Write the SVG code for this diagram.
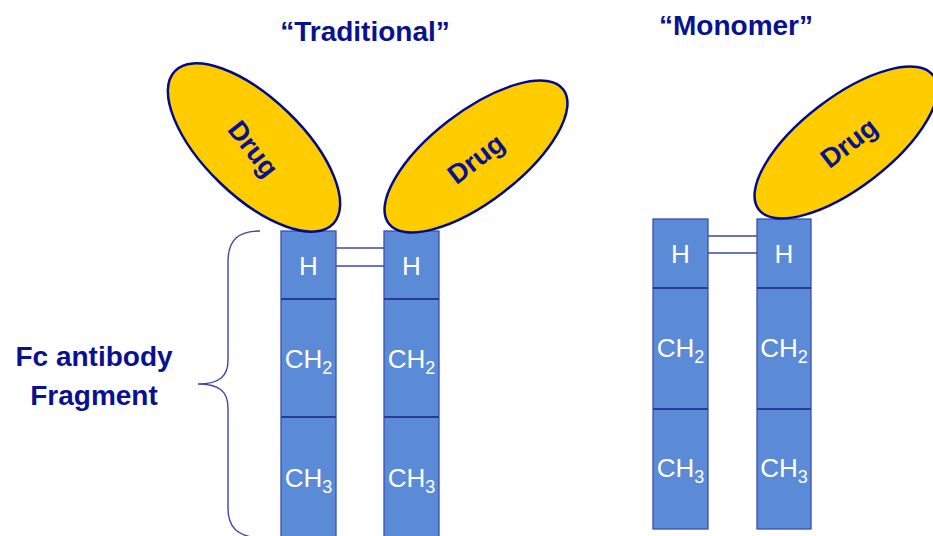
<svg xmlns="http://www.w3.org/2000/svg" width="933" height="536" viewBox="0 0 933 536">
<style>
.col{fill:#5b8bd6;stroke:#3d4fb3;stroke-width:1.3}
.div{stroke:#2b3a98;stroke-width:2}
.drug{fill:#ffcc00;stroke:#000a8c;stroke-width:2.5}
.dt{font-family:"Liberation Sans",Arial,sans-serif;font-weight:bold;font-size:27px;fill:#0a1190;text-anchor:middle}
.wt{font-family:"Liberation Sans",Arial,sans-serif;font-size:26px;fill:#ffffff;text-anchor:middle}
.sub{font-size:18px}
.title{font-family:"Liberation Sans",Arial,sans-serif;font-weight:bold;font-size:28px;fill:#0a1190;text-anchor:middle}
.link{stroke:#3b46a8;stroke-width:1.6;fill:none}
</style>
<rect width="933" height="536" fill="#ffffff"/>
<text class="title" x="365" y="41">“Traditional”</text>
<text class="title" x="736" y="35">“Monomer”</text>
<g id="fc-label">
<text class="title" x="94" y="366">Fc antibody</text>
<text class="title" x="94" y="405">Fragment</text>
<path d="M260,231 C238,231 228,240 228,262 L228,360 C228,376 220,384 198,384 C220,384 228,392 228,408 L228,508 C228,528 238,536 258,538" fill="none" stroke="#3b47a8" stroke-width="1.4"/>
</g>
<g id="connectors">
<line class="link" x1="336" y1="248" x2="385" y2="248"/>
<line class="link" x1="336" y1="266" x2="385" y2="266"/>
<line class="link" x1="708" y1="236" x2="757" y2="236" stroke="#a9b0e0"/>
<line class="link" x1="708" y1="253" x2="757" y2="253"/>
</g>
<g id="trad-left-chain">
<rect class="col" x="281" y="231" width="55" height="310"/>
<line class="div" x1="281" y1="299" x2="336" y2="299"/>
<line class="div" x1="281" y1="417" x2="336" y2="417"/>
<text class="wt" x="308.5" y="275">H</text>
<text class="wt" x="308.5" y="368">CH<tspan class="sub" dy="6">2</tspan></text>
<text class="wt" x="308.5" y="487">CH<tspan class="sub" dy="6">3</tspan></text>
</g>
<g id="trad-right-chain">
<rect class="col" x="384" y="231" width="55" height="310"/>
<line class="div" x1="384" y1="299" x2="439" y2="299"/>
<line class="div" x1="384" y1="417" x2="439" y2="417"/>
<text class="wt" x="411.5" y="275">H</text>
<text class="wt" x="411.5" y="368">CH<tspan class="sub" dy="6">2</tspan></text>
<text class="wt" x="411.5" y="487">CH<tspan class="sub" dy="6">3</tspan></text>
</g>
<g id="mono-left-chain">
<rect class="col" x="653" y="219" width="55" height="310"/>
<line class="div" x1="653" y1="288" x2="708" y2="288"/>
<line class="div" x1="653" y1="409" x2="708" y2="409"/>
<text class="wt" x="680.5" y="263">H</text>
<text class="wt" x="680.5" y="357">CH<tspan class="sub" dy="6">2</tspan></text>
<text class="wt" x="680.5" y="477">CH<tspan class="sub" dy="6">3</tspan></text>
</g>
<g id="mono-right-chain">
<rect class="col" x="757" y="219" width="54" height="310"/>
<line class="div" x1="757" y1="288" x2="811" y2="288"/>
<line class="div" x1="757" y1="409" x2="811" y2="409"/>
<text class="wt" x="784" y="263">H</text>
<text class="wt" x="784" y="357">CH<tspan class="sub" dy="6">2</tspan></text>
<text class="wt" x="784" y="477">CH<tspan class="sub" dy="6">3</tspan></text>
</g>
<g id="drug-left">
<ellipse class="drug" cx="254" cy="147.5" rx="110" ry="49" transform="rotate(44 254 147.5)"/>
<text class="dt" transform="translate(253 149) rotate(52)" y="9">Drug</text>
</g>
<g id="drug-right">
<ellipse class="drug" cx="476" cy="156.5" rx="110" ry="45" transform="rotate(-37.5 476 156.5)"/>
<text class="dt" transform="translate(476 159) rotate(-37.5)" y="9">Drug</text>
</g>
<g id="drug-monomer">
<ellipse class="drug" cx="846" cy="142.5" rx="110" ry="45" transform="rotate(-37.5 846 142.5)"/>
<text class="dt" transform="translate(849 143) rotate(-37.5)" y="9">Drug</text>
</g>
</svg>
